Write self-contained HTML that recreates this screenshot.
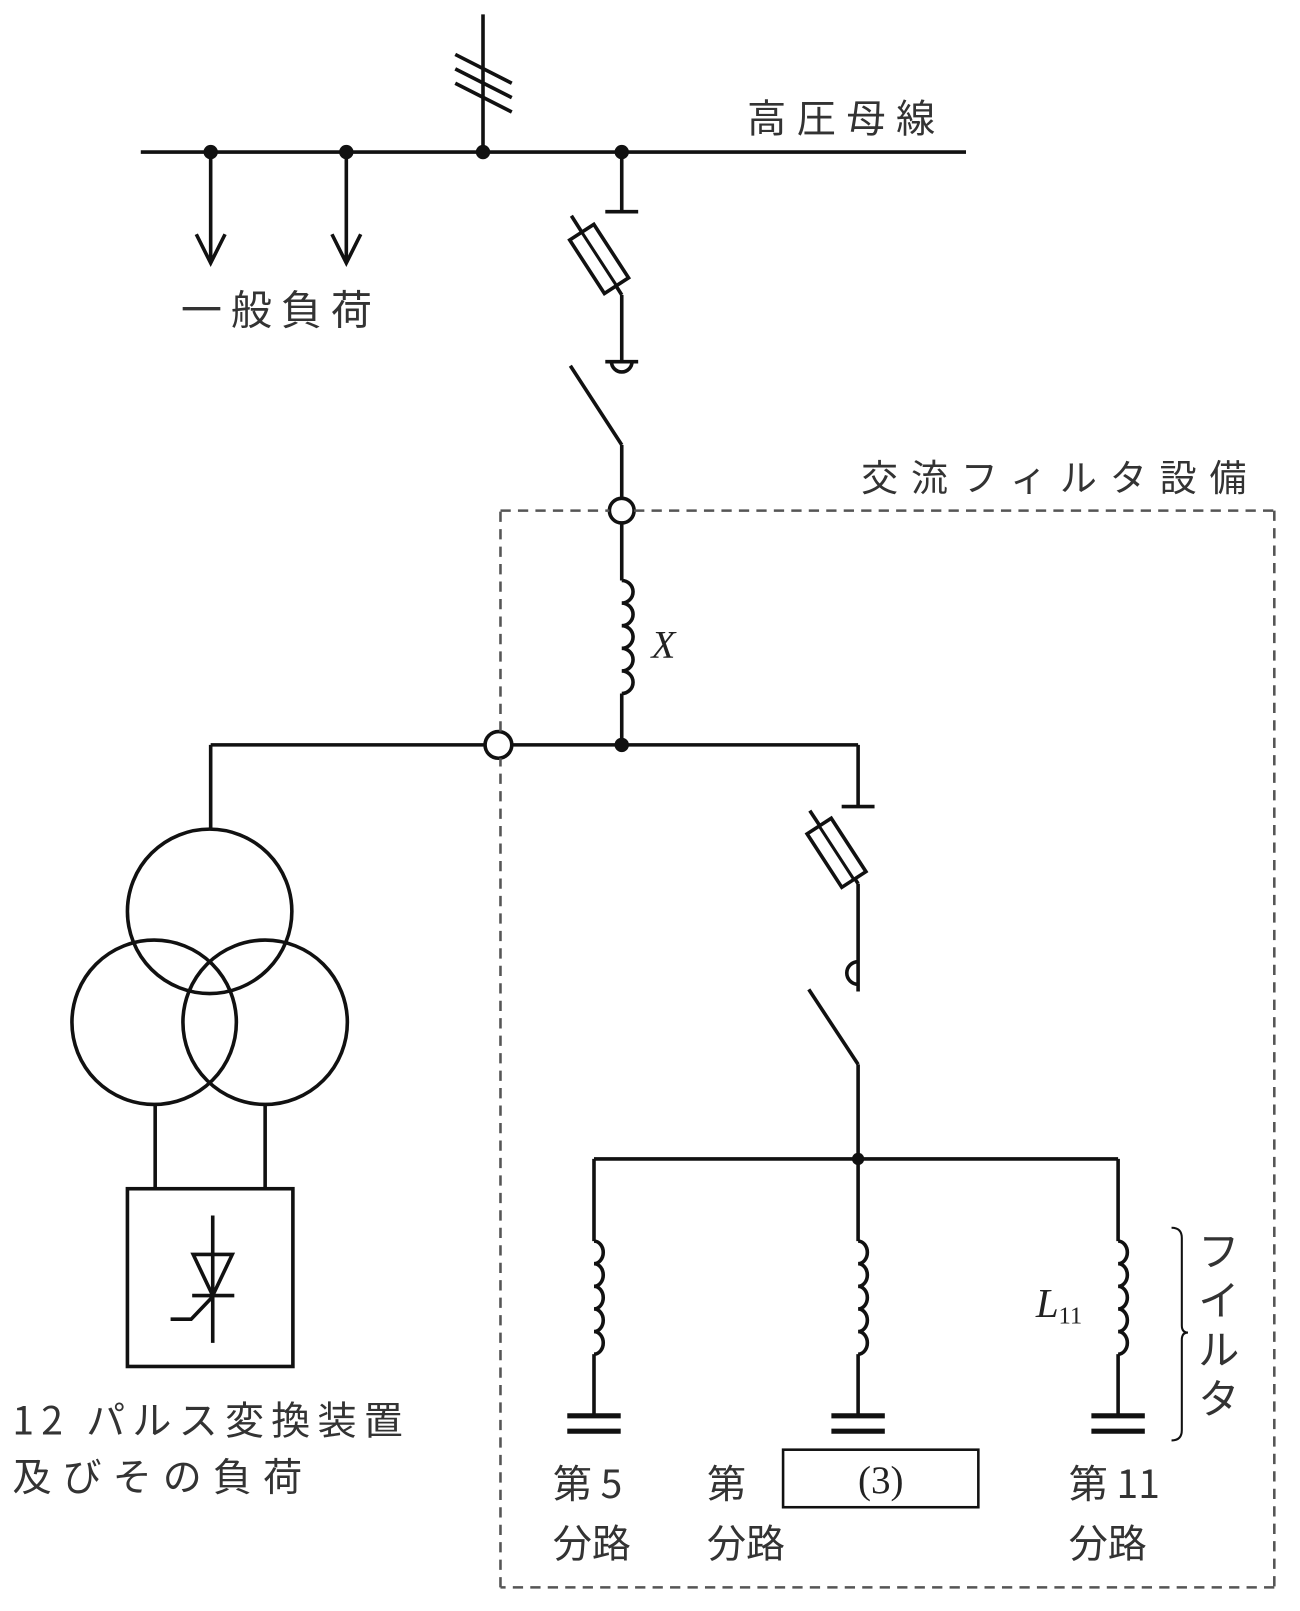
<!DOCTYPE html>
<html><head><meta charset="utf-8"><style>
html,body{margin:0;padding:0;background:#fff;}
svg{display:block;}
text{font-family:"Liberation Serif","Noto Serif CJK SC","Noto Sans CJK JP",serif;fill:#222;}
.j{font-family:"Noto Sans CJK JP","Liberation Sans",sans-serif;fill:#333;}
</style></head><body>
<svg width="1300" height="1611" viewBox="0 0 1265 1568" preserveAspectRatio="none" xmlns="http://www.w3.org/2000/svg">
<g stroke="#111" stroke-width="3.5" fill="none" stroke-linecap="butt">
<line x1="137" y1="148" x2="940" y2="148"/>
<line x1="470" y1="14" x2="470" y2="148"/>
<line x1="443" y1="53" x2="498" y2="81"/>
<line x1="443" y1="67" x2="498" y2="95"/>
<line x1="443" y1="81" x2="498" y2="109"/>
<line x1="205" y1="148" x2="205" y2="255"/>
<polyline points="191,228 205,256 219,228"/>
<line x1="337" y1="148" x2="337" y2="255"/>
<polyline points="323,228 337,256 351,228"/>
<line x1="605" y1="148" x2="605" y2="206"/>
<line x1="589" y1="206" x2="621" y2="206"/>
<line x1="556" y1="210" x2="605" y2="287"/>
<g transform="translate(583,252) rotate(-33)">
<rect x="-14" y="-31" width="28" height="62" fill="#fff"/>
<line x1="0" y1="-31" x2="0" y2="31" stroke-width="3"/>
</g>
<line x1="605" y1="287" x2="605" y2="352"/>
<line x1="589" y1="352" x2="621" y2="352"/>
<path d="M595 352 A10 10 0 0 0 615 352"/>
<line x1="555" y1="356" x2="605" y2="433"/>
<line x1="605" y1="433" x2="605" y2="485"/>
<circle cx="605" cy="497" r="12" fill="#fff"/>
<line x1="605" y1="509" x2="605" y2="565"/>
<path d="M605 565 a11 11 0 0 1 0 22 a11 11 0 0 1 0 22 a11 11 0 0 1 0 22 a11 11 0 0 1 0 22 a11 11 0 0 1 0 22"/>
<line x1="605" y1="675" x2="605" y2="725"/>
<line x1="205" y1="725" x2="472" y2="725"/>
<line x1="498" y1="725" x2="835" y2="725"/>
<line x1="205" y1="725" x2="205" y2="807"/>
<circle cx="485" cy="725" r="13" fill="#fff"/>
<circle cx="204" cy="887" r="80"/>
<circle cx="150" cy="995" r="80"/>
<circle cx="258" cy="995" r="80"/>
<line x1="151" y1="1075" x2="151" y2="1157"/>
<line x1="258" y1="1075" x2="258" y2="1157"/>
<rect x="124" y="1157" width="161" height="173"/>
<line x1="207" y1="1183" x2="207" y2="1307"/>
<polygon points="188,1221 226,1221 207,1261"/>
<line x1="187" y1="1261" x2="228" y2="1261"/>
<polyline points="166,1284 186,1284 207,1262"/>
<line x1="835" y1="725" x2="835" y2="785"/>
<line x1="819" y1="785" x2="851" y2="785"/>
<line x1="788" y1="789" x2="835" y2="860"/>
<g transform="translate(814,830) rotate(-33)">
<rect x="-14" y="-31" width="28" height="62" fill="#fff"/>
<line x1="0" y1="-31" x2="0" y2="31" stroke-width="3"/>
</g>
<line x1="835" y1="860" x2="835" y2="965"/>
<path d="M835 936 A11 11 0 0 0 835 958"/>
<line x1="787" y1="963" x2="835" y2="1036"/>
<line x1="835" y1="1036" x2="835" y2="1128"/>
<line x1="578" y1="1128" x2="1088" y2="1128"/>
<g id="c">
<line x1="578" y1="1128" x2="578" y2="1208"/>
<path d="M578 1208 a9 11 0 0 1 0 22 a9 11 0 0 1 0 22 a9 11 0 0 1 0 22 a9 11 0 0 1 0 22 a9 11 0 0 1 0 22"/>
<line x1="578" y1="1318" x2="578" y2="1378"/>
<line x1="552" y1="1378" x2="604" y2="1378" stroke-width="5"/>
<line x1="552" y1="1393" x2="604" y2="1393" stroke-width="5"/>
</g>
<use href="#c" transform="translate(257,0)"/>
<use href="#c" transform="translate(510,0)"/>
<path d="M1140 1195 Q1150 1195 1150 1205 L1150 1290 Q1150 1297 1156 1297 Q1150 1297 1150 1304 L1150 1392 Q1150 1402 1140 1402" stroke-width="2"/>
<rect x="762" y="1411" width="190" height="56" stroke-width="2.5"/>
<g stroke-dasharray="10 7" stroke-width="2.5" stroke="#555">
<line x1="487" y1="497" x2="593" y2="497"/>
<line x1="617" y1="497" x2="1240" y2="497"/>
<line x1="1240" y1="497" x2="1240" y2="1545"/>
<line x1="1240" y1="1545" x2="487" y2="1545"/>
<line x1="487" y1="1545" x2="487" y2="738"/>
<line x1="487" y1="712" x2="487" y2="497"/>
</g>
</g>
<g fill="#111">
<circle cx="205" cy="148" r="7"/><circle cx="337" cy="148" r="7"/>
<circle cx="470" cy="148" r="7"/><circle cx="605" cy="148" r="7"/>
<circle cx="605" cy="725" r="7"/><circle cx="835" cy="1128" r="6"/>
</g>
<text class="j" x="727" y="129" font-size="38" textLength="183">高圧母線</text>
<text class="j" x="176" y="316" font-size="40" textLength="186">一般負荷</text>
<text class="j" x="838" y="478" font-size="36" textLength="375">交流フィルタ設備</text>
<text x="634" y="640" font-size="38" font-style="italic">X</text>
<text x="1008" y="1282" font-size="40" font-style="italic">L</text>
<text x="1030" y="1288" font-size="24">11</text>
<text class="j" font-size="40" x="1166" y="1232">フ</text>
<text class="j" font-size="40" x="1166" y="1280">イ</text>
<text class="j" font-size="40" x="1166" y="1328">ル</text>
<text class="j" font-size="40" x="1166" y="1376">タ</text>
<text class="j" x="12" y="1396" font-size="38" textLength="380">12 パルス変換装置</text>
<text class="j" x="12" y="1451" font-size="38" textLength="282">及びその負荷</text>
<text class="j" x="538" y="1458" font-size="38">第 5</text>
<text class="j" x="538" y="1516" font-size="38">分路</text>
<text class="j" x="688" y="1458" font-size="38">第</text>
<text class="j" x="688" y="1516" font-size="38">分路</text>
<text x="857" y="1453" font-size="38" text-anchor="middle">(3)</text>
<text class="j" x="1040" y="1458" font-size="38">第 11</text>
<text class="j" x="1040" y="1516" font-size="38">分路</text>
</svg>
</body></html>
